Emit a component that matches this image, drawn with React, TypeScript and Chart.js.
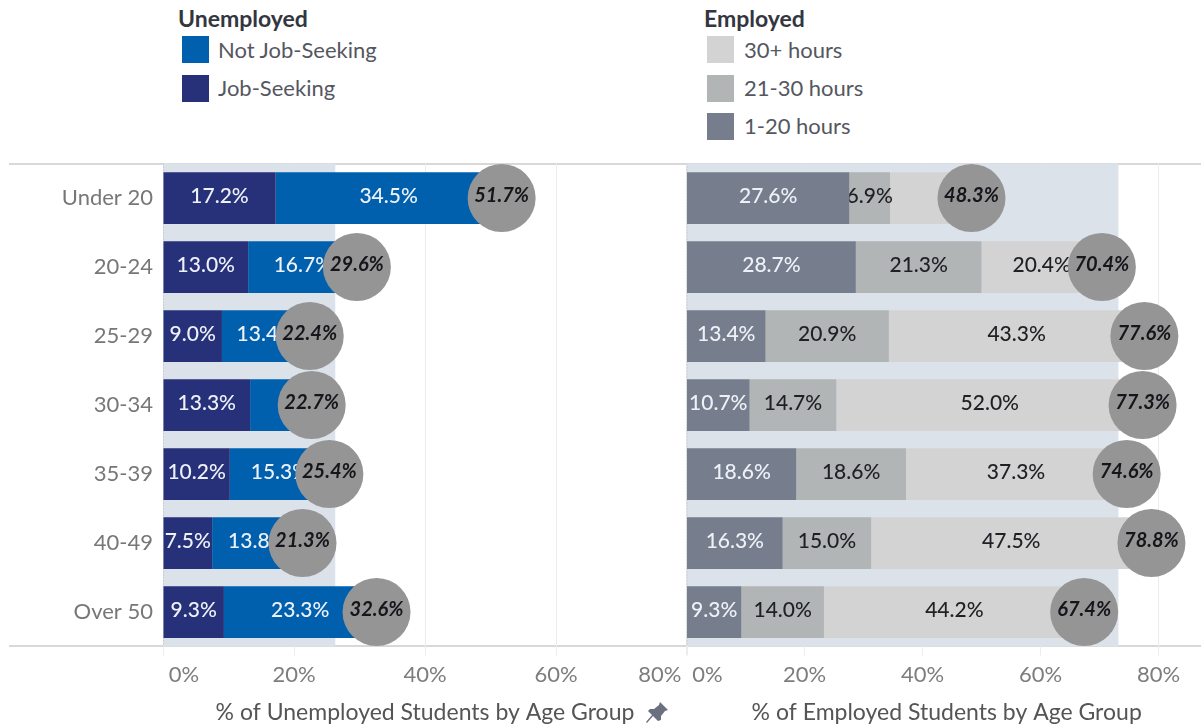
import React, { useEffect, useRef } from "react";
import { Chart, registerables } from "chart.js";

Chart.register(...registerables);

const ageGroups = ["Under 20", "20-24", "25-29", "30-34", "35-39", "40-49", "Over 50"];
const jobSeeking = [17.2, 13.0, 9.0, 13.3, 10.2, 7.5, 9.3];
const notJobSeeking = [34.5, 16.7, 13.4, 9.4, 15.3, 13.8, 23.3];
const unemployedTotals = [51.7, 29.6, 22.4, 22.7, 25.4, 21.3, 32.6];
const hours1to20 = [27.6, 28.7, 13.4, 10.7, 18.6, 16.3, 9.3];
const hours21to30 = [6.9, 21.3, 20.9, 14.7, 18.6, 15.0, 14.0];
const hours30plus = [13.8, 20.4, 43.3, 52.0, 37.3, 47.5, 44.2];
const employedTotals = [48.3, 70.4, 77.6, 77.3, 74.6, 78.8, 67.4];
const hiddenNotJobSeekingLabels = ["30-34"];
const hiddenHours30Labels = ["Under 20"];
const leftTicks = [0, 20, 40, 60, 80];
const rightTicks = [0, 20, 40, 60, 80];
const leftBandEnd = 26.3;
const rightBandEnd = 73.2;
const leftMax = 80;
const rightMax = 87.2;

const NAVY = "#27317a";
const BLUE = "#0060ae";
const SLATE = "#767d8c";
const MID = "#b1b5b6";
const LIGHT = "#d3d3d3";
const BAND = "#dce2ea";
const CIRCLE = "#959596";
const FONT = "Lato";

const fmt = (v: number) => v.toFixed(1) + "%";

const panelPlugin = (bandEnd: number) => ({
  id: "panel",
  beforeDatasetsDraw(chart: any) {
    const { ctx, chartArea, scales } = chart;
    const x0 = scales.x.getPixelForValue(0);
    const x1 = scales.x.getPixelForValue(bandEnd);
    ctx.save();
    ctx.fillStyle = BAND;
    ctx.fillRect(x0, chartArea.top, x1 - x0, chartArea.bottom - chartArea.top);
    ctx.strokeStyle = "#b8bcc4";
    ctx.setLineDash([1, 2]);
    ctx.beginPath();
    ctx.moveTo(x0 + 0.5, chartArea.top);
    ctx.lineTo(x0 + 0.5, chartArea.bottom);
    ctx.stroke();
    ctx.restore();
  },
  afterDatasetDraw(chart: any, args: any) {
    const { ctx } = chart;
    const ds: any = chart.data.datasets[args.index];
    const meta = args.meta;
    ctx.save();
    ctx.textAlign = "center";
    ctx.textBaseline = "middle";
    if (ds.type === "line") {
      ctx.font = `italic 700 20px ${FONT}`;
      ctx.fillStyle = "#15151a";
      meta.data.forEach((el: any, i: number) => {
        ctx.fillText(fmt(ds.data[i]), el.x, el.y - 2);
      });
    } else {
      ctx.font = `500 21px ${FONT}`;
      ctx.fillStyle = ds.labelColor;
      meta.data.forEach((el: any, i: number) => {
        if ((ds.hiddenLabels || []).includes(ageGroups[i])) return;
        const left = Math.min(el.x, el.base);
        const right = Math.max(el.x, el.base);
        ctx.fillText(fmt(ds.data[i]), (left + right) / 2, el.y - 2);
      });
    }
    ctx.restore();
  },
});

function makeChart(
  canvas: HTMLCanvasElement,
  cfg: {
    series: { label: string; data: number[]; color: string; labelColor: string; hiddenLabels?: string[] }[];
    totals: number[];
    ticks: number[];
    max: number;
    bandEnd: number;
    title: string;
    showY: boolean;
    padding: any;
    outerLabels: boolean;
  }
) {
  const lastTick = cfg.ticks[cfg.ticks.length - 1];
  return new Chart(canvas, {
    type: "bar",
    data: {
      labels: ageGroups,
      datasets: [
        ...cfg.series.map((s) => ({
          type: "bar",
          label: s.label,
          data: s.data,
          backgroundColor: s.color,
          labelColor: s.labelColor,
          hiddenLabels: s.hiddenLabels,
          categoryPercentage: 1,
          barPercentage: 0.75,
          order: 1,
          stack: "a",
        })),
        {
          type: "line",
          label: "Total",
          data: cfg.totals,
          showLine: false,
          pointRadius: 34,
          pointHoverRadius: 34,
          pointBackgroundColor: CIRCLE,
          pointBorderWidth: 0,
          order: 0,
          clip: false,
        },
      ] as any,
    },
    options: {
      indexAxis: "y",
      responsive: false,
      animation: false,
      layout: { padding: cfg.padding, autoPadding: false },
      plugins: { legend: { display: false }, tooltip: { enabled: false } },
      scales: {
        x: {
          type: "linear",
          stacked: true,
          min: 0,
          max: cfg.max,
          afterBuildTicks: (s: any) => {
            s.ticks = [...cfg.ticks, ...(cfg.max > lastTick ? [cfg.max] : [])].map((value) => ({ value }));
          },
          afterFit: (s: any) => {
            s.height = 80.5;
            s.paddingLeft = 0;
            s.paddingRight = 0;
          },
          grid: {
            color: (c: any) => (cfg.ticks.includes(c.tick?.value) ? "#ececec" : "rgba(0,0,0,0)"),
            tickLength: 9,
            lineWidth: 1,
          },
          border: { display: false },
          ticks: {
            autoSkip: false,
            maxRotation: 0,
            align: "inner",
            padding: 6,
            color: "#7d7d7d",
            font: { family: FONT, size: 22 },
            callback: (v: any) => {
              if (!cfg.ticks.includes(v)) return "";
              const t = v + "%";
              if (v === 0) return "\u00a0" + t;
              if (v === lastTick && cfg.outerLabels) return t + "\u00a0";
              return t;
            },
          },
          title: {
            display: true,
            text: cfg.title,
            color: "#555",
            font: { family: FONT, size: 23 },
            padding: { top: 0, bottom: 1 },
          },
        },
        y: {
          type: "category",
          stacked: true,
          display: cfg.showY,
          afterFit: (s: any) => {
            s.width = cfg.showY ? 163 : 0;
          },
          grid: { display: false, drawTicks: false },
          border: { display: false },
          ticks: {
            padding: 10,
            color: "#777",
            font: { family: FONT, size: 22 },
          },
        },
      },
    } as any,
    plugins: [panelPlugin(cfg.bandEnd)],
  } as any);
}

const swatch = (x: number, y: number, color: string) => (
  <div style={{ position: "absolute", left: x, top: y, width: 27, height: 27, background: color }} />
);
const legendText = (x: number, y: number, text: string, bold = false) => (
  <div
    style={{
      position: "absolute",
      left: x,
      top: y - 14,
      height: 30,
      lineHeight: "30px",
      font: `${bold ? 700 : 400} ${bold ? 23 : 22}px ${FONT}`,
      color: bold ? "#33363f" : "#55575f",
      whiteSpace: "nowrap",
    }}
  >
    {text}
  </div>
);

export default function App() {
  const leftRef = useRef<HTMLCanvasElement>(null);
  const rightRef = useRef<HTMLCanvasElement>(null);

  useEffect(() => {
    const left = makeChart(leftRef.current!, {
      series: [
        { label: "Job-Seeking", data: jobSeeking, color: NAVY, labelColor: "#eef2f8" },
        { label: "Not Job-Seeking", data: notJobSeeking, color: BLUE, labelColor: "#eef2f8", hiddenLabels: hiddenNotJobSeekingLabels },
      ],
      totals: unemployedTotals,
      ticks: leftTicks,
      max: leftMax,
      bandEnd: leftBandEnd,
      title: "% of Unemployed Students by Age Group",
      showY: true,
      padding: { top: 163.5, right: 3, left: 0, bottom: 0 },
      outerLabels: true,
    });
    const right = makeChart(rightRef.current!, {
      series: [
        { label: "1-20 hours", data: hours1to20, color: SLATE, labelColor: "#eef2f8" },
        { label: "21-30 hours", data: hours21to30, color: MID, labelColor: "#1f1f24" },
        { label: "30+ hours", data: hours30plus, color: LIGHT, labelColor: "#1f1f24", hiddenLabels: hiddenHours30Labels },
      ],
      totals: employedTotals,
      ticks: rightTicks,
      max: rightMax,
      bandEnd: rightBandEnd,
      title: "\u00a0% of Employed Students by Age Group",
      showY: false,
      padding: { top: 163.5, left: 6.5, right: 0, bottom: 0 },
      outerLabels: false,
    });
    return () => {
      left.destroy();
      right.destroy();
    };
  }, []);

  return (
    <div style={{ position: "fixed", left: 0, top: 0, width: 1201, height: 727, background: "#fff", overflow: "hidden" }}>
      <div style={{ position: "absolute", left: 9, right: 0, top: 163, height: 2, background: "#d8d8d8" }} />
      <div style={{ position: "absolute", left: 9, right: 0, top: 645, height: 2, background: "#d8d8d8" }} />
      {legendText(178, 18, "Unemployed", true)}
      {swatch(182, 36, BLUE)}
      {legendText(218, 50, "Not Job-Seeking")}
      {swatch(182, 75, NAVY)}
      {legendText(218, 88, "Job-Seeking")}
      {legendText(704, 18, "Employed", true)}
      {swatch(707, 36, LIGHT)}
      {legendText(744, 50, "30+ hours")}
      {swatch(707, 75, MID)}
      {legendText(744, 88, "21-30 hours")}
      {swatch(707, 113, SLATE)}
      {legendText(744, 126, "1-20 hours")}
      <canvas ref={leftRef} width={690} height={727} style={{ position: "absolute", left: 0, top: 0 }} />
      <canvas ref={rightRef} width={521} height={727} style={{ position: "absolute", left: 680, top: 0 }} />
      <svg width={26} height={26} viewBox="0 0 26 26" style={{ position: "absolute", left: 644, top: 700 }}>
        <path d="M16 2 L24 10 L21 11 L17 16 L17 20 L14 21 L9 16 L3 23 L2 22 L8 15 L4 11 L6 9 L10 9 L15 5 Z" fill="#6b7080" />
      </svg>
    </div>
  );
}
